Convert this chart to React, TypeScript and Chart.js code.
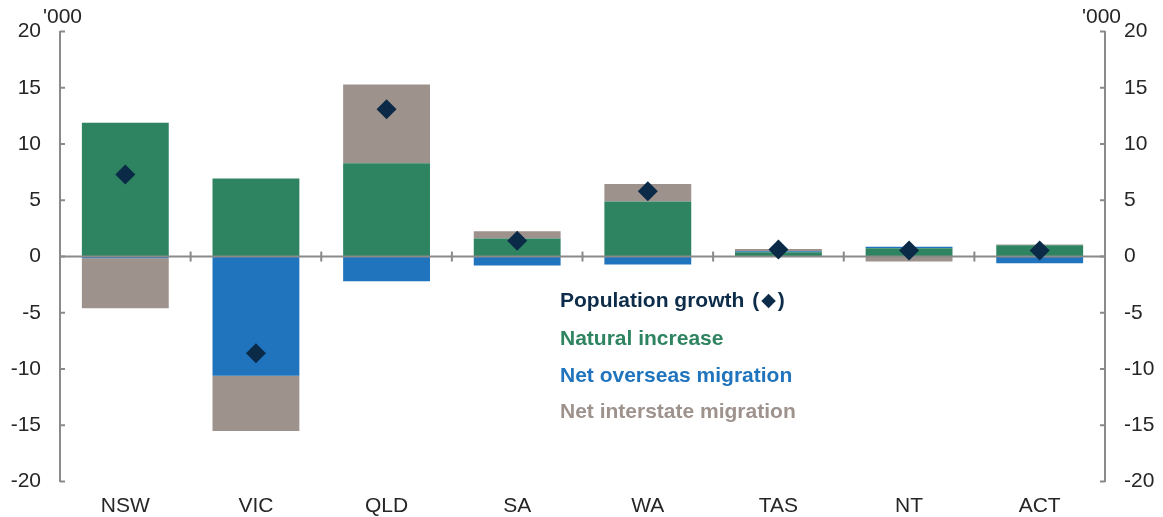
import React, { useEffect, useRef } from "react";
import { Chart, registerables } from "chart.js";

Chart.register(...registerables);

const categories = ["NSW", "VIC", "QLD", "SA", "WA", "TAS", "NT", "ACT"];
const naturalIncrease = [11.9, 6.95, 8.3, 1.6, 4.9, 0.38, 0.73, 1.0];
const netOverseas = [-0.15, -10.6, -2.2, -0.8, -0.7, 0.1, 0.15, -0.6];
const netInterstate = [-4.45, -4.9, 7.0, 0.65, 1.55, 0.2, -0.44, 0.08];
const populationGrowth = [7.3, -8.6, 13.1, 1.4, 5.8, 0.62, 0.53, 0.53];
const yTicks = [-20, -15, -10, -5, 0, 5, 10, 15, 20];

const GREEN = "#2e8461";
const BLUE = "#1f74bd";
const GREY = "#9e928d";
const NAVY = "#0b2a47";
const AXIS = "#8a8a8a";
const TEXT = "#262626";
const FONT = '"Liberation Sans", Arial, sans-serif';

const legendItems = [
  { text: "Population growth", color: "#0d2c4a" },
  { text: "Natural increase", color: GREEN },
  { text: "Net overseas migration", color: BLUE },
  { text: "Net interstate migration", color: GREY },
];

const decorPlugin = {
  id: "decor",
  beforeDatasetDraw(chart: any, args: any) {
    if (args.index !== 3) return;
    const ctx = chart.ctx;
    const x = chart.scales.x;
    const y = chart.scales.y;
    const area = chart.chartArea;
    const y0 = y.getPixelForValue(0);
    ctx.save();
    ctx.strokeStyle = AXIS;
    ctx.lineWidth = 2;
    ctx.beginPath();
    ctx.moveTo(area.left, y0);
    ctx.lineTo(area.right, y0);
    ctx.stroke();
    for (let i = 1; i < categories.length; i++) {
      const bx = (x.getPixelForValue(i - 1) + x.getPixelForValue(i)) / 2;
      ctx.beginPath();
      ctx.moveTo(bx, y0 - 5);
      ctx.lineTo(bx, y0 + 5);
      ctx.stroke();
    }
    ctx.restore();
  },
  afterDraw(chart: any) {
    const ctx = chart.ctx;
    const y = chart.scales.y;
    const area = chart.chartArea;
    ctx.save();
    ctx.strokeStyle = AXIS;
    ctx.lineWidth = 2;
    for (const v of yTicks) {
      const py = y.getPixelForValue(v);
      ctx.beginPath();
      ctx.moveTo(area.left, py);
      ctx.lineTo(area.left + 5, py);
      ctx.moveTo(area.right, py);
      ctx.lineTo(area.right - 5, py);
      ctx.stroke();
    }
    ctx.fillStyle = TEXT;
    ctx.font = `21px ${FONT}`;
    ctx.textBaseline = "middle";
    ctx.textAlign = "left";
    ctx.fillText("'000", area.left - 17, 17);
    ctx.textAlign = "right";
    ctx.fillText("'000", area.right + 16, 17);
    ctx.textAlign = "left";
    const ys = [301, 339, 376, 412];
    legendItems.forEach((it, i) => {
      ctx.font = `bold 21px ${FONT}`;
      ctx.fillStyle = it.color;
      ctx.fillText(it.text, 560, ys[i]);
      if (i === 0) {
        let px = 560 + ctx.measureText(it.text + " ").width + 2;
        ctx.fillText("(", px, ys[i]);
        px += ctx.measureText("(").width + 2;
        ctx.font = `19px "DejaVu Sans", sans-serif`;
        ctx.fillText("\u25C6", px, ys[i]);
        px += ctx.measureText("\u25C6").width + 2;
        ctx.font = `bold 21px ${FONT}`;
        ctx.fillText(")", px, ys[i]);
      }
    });
    ctx.restore();
  },
};

export default function App() {
  const ref = useRef<HTMLCanvasElement>(null);
  useEffect(() => {
    if (!ref.current) return;
    const common = {
      min: -20,
      max: 20,
      grid: { display: false, drawTicks: false },
      border: { display: true, color: AXIS, width: 2 },
    };
    const chart = new Chart(ref.current, {
      type: "bar",
      data: {
        labels: categories,
        datasets: [
          {
            label: "Natural increase",
            data: naturalIncrease,
            backgroundColor: GREEN,
            stack: "s",
            order: 1,
            barPercentage: 0.665,
            categoryPercentage: 1,
          },
          {
            label: "Net overseas migration",
            data: netOverseas,
            backgroundColor: BLUE,
            stack: "s",
            order: 1,
            barPercentage: 0.665,
            categoryPercentage: 1,
          },
          {
            label: "Net interstate migration",
            data: netInterstate,
            backgroundColor: GREY,
            stack: "s",
            order: 1,
            barPercentage: 0.665,
            categoryPercentage: 1,
          },
          {
            type: "line",
            label: "Population growth",
            data: populationGrowth,
            stack: "g",
            showLine: false,
            pointStyle: "rectRot",
            pointRadius: 10,
            pointBackgroundColor: NAVY,
            pointBorderColor: NAVY,
            pointBorderWidth: 0,
            order: 0,
          } as any,
        ],
      },
      options: {
        responsive: false,
        devicePixelRatio: 1,
        animation: false,
        layout: { padding: { top: 25.5, left: 0, right: 0, bottom: 0 } },
        plugins: { legend: { display: false }, tooltip: { enabled: false } },
        scales: {
          x: {
            stacked: true,
            grid: { display: false, drawTicks: false },
            border: { display: false },
            ticks: { color: TEXT, font: { size: 21, family: FONT }, padding: 12, maxRotation: 0 },
            afterFit: (s: any) => {
              s.height = 35.5;
            },
          },
          y: {
            ...common,
            stacked: true,
            position: "left",
            ticks: { stepSize: 5, color: TEXT, font: { size: 21, family: FONT }, padding: 19 },
            afterFit: (s: any) => {
              s.width = 60;
            },
          },
          y2: {
            ...common,
            position: "right",
            ticks: { stepSize: 5, color: TEXT, font: { size: 21, family: FONT }, padding: 19 },
            afterFit: (s: any) => {
              s.width = 58;
            },
          },
        },
      } as any,
      plugins: [decorPlugin],
    });
    return () => chart.destroy();
  }, []);
  return (
    <div style={{ position: "fixed", left: 0, top: 0, width: 1163, height: 517, background: "#fff" }}>
      <canvas ref={ref} width={1163} height={517} />
    </div>
  );
}
